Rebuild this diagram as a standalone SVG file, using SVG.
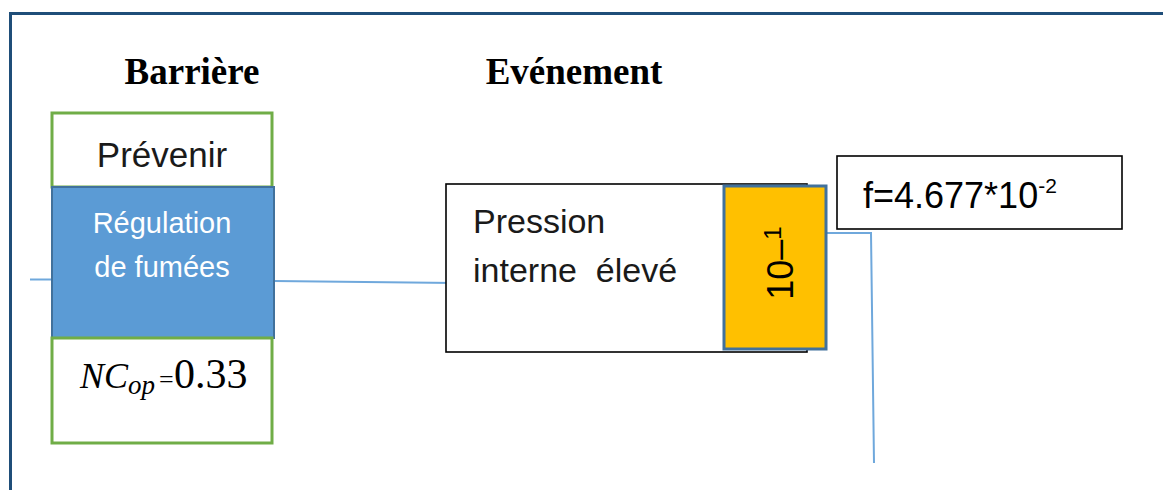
<svg xmlns="http://www.w3.org/2000/svg" width="1163" height="490" viewBox="0 0 1163 490">
  <style>
    .head { font-family: "Liberation Serif", "Times New Roman", serif; font-weight: bold; font-size: 37px; fill: #000; }
    .sans { font-family: "Liberation Sans", Arial, sans-serif; fill: #1a1a1a; }
    .green { fill: #ffffff; stroke: #70AD47; stroke-width: 3; }
    .plain { fill: #ffffff; stroke: #000000; stroke-width: 1.6; }
    .link { fill: none; stroke: #6FA8DC; stroke-width: 2; }
  </style>

  <rect width="1163" height="490" fill="#ffffff"/>

  <!-- outer frame, open to the right and bottom -->
  <path d="M10.5,490 V13.5 H1163" fill="none" stroke="#1F4E79" stroke-width="3"/>

  <!-- column headings -->
  <text class="head" x="192" y="84" text-anchor="middle">Barrière</text>
  <text class="head" x="574" y="84" text-anchor="middle">Evénement</text>

  <!-- connectors -->
  <g id="connectors">
    <line class="link" x1="30" y1="279.5" x2="52" y2="279.5"/>
    <line class="link" x1="274" y1="281" x2="455" y2="283"/>
    <polyline class="link" points="826,233 871,233 874,463"/>
  </g>

  <!-- barrier stack -->
  <g id="barrier-prevenir">
    <rect class="green" x="52" y="113" width="220" height="74"/>
    <text class="sans" x="162" y="167" font-size="35" text-anchor="middle">Prévenir</text>
  </g>

  <g id="barrier-regulation">
    <rect x="52" y="187" width="222" height="151" fill="#5B9BD5" stroke="#41719C" stroke-width="2"/>
    <text class="sans" x="162" y="233" font-size="29" text-anchor="middle" style="fill:#ffffff">Régulation</text>
    <text class="sans" x="162" y="277" font-size="29" text-anchor="middle" style="fill:#ffffff">de fumées</text>
  </g>

  <g id="barrier-ncop">
    <rect class="green" x="52" y="338" width="220" height="105"/>
    <text x="80" y="388" font-family="Liberation Serif, 'Times New Roman', serif" font-size="36" fill="#000"><tspan font-style="italic">NC</tspan><tspan font-style="italic" font-size="27" dy="6">op</tspan><tspan font-size="26" dy="-6" x="159">=</tspan><tspan font-size="42" x="174">0.33</tspan></text>
  </g>

  <!-- event -->
  <g id="event-pression">
    <rect class="plain" x="446" y="184" width="361" height="168"/>
    <text class="sans" x="473" y="233" font-size="34">Pression</text>
    <text class="sans" x="473" y="282" font-size="34" xml:space="preserve">interne  élevé</text>
  </g>

  <g id="event-probability">
    <rect x="724" y="186" width="102" height="163" fill="#FFC000" stroke="#41719C" stroke-width="3"/>
    <text class="sans" transform="translate(793,263) rotate(-90)" font-size="36" text-anchor="middle" style="fill:#000">10<tspan dy="-2">–</tspan><tspan font-size="24" dy="-10">1</tspan></text>
  </g>

  <g id="frequency">
    <rect class="plain" x="837" y="156" width="285" height="73"/>
    <text class="sans" x="863" y="208" font-size="36" style="fill:#000">f=4.677*10<tspan font-size="21" dy="-15">-2</tspan></text>
  </g>
</svg>
